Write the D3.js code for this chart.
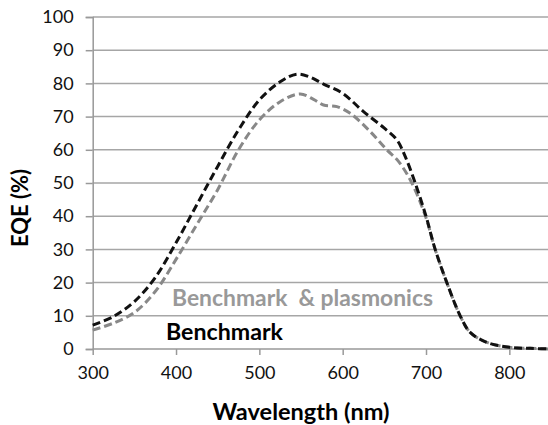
<!DOCTYPE html>
<html><head><meta charset="utf-8">
<script src="https://cdn.jsdelivr.net/npm/d3@7"></script>
<style>body{margin:0;background:#fff}svg{display:block}</style>
</head><body><svg id="c" width="548" height="425"></svg>
<script>
const benchWl = [300,325,350,375,400,425,450,475,500,525,545,560,577,600,625,650,665,675,687,700,711,725,741,753,773,800,825,850];
const benchEqe = [7.2,9.8,14.3,21.5,32,43.5,55,66,75,80.5,82.8,82,79.8,77,71.5,66.5,63,58,50,40,30,20,10,5,2,0.5,0.2,0];
const plasWl = [300,325,350,375,400,425,450,475,500,525,549,565,577,593,609,633,653,667,683,700,711,725,741,753,773,800,825,850];
const plasEqe = [5.7,7.8,11,17.3,27,37.5,48,60,69,74.5,76.8,75.2,73.5,73,71,65.5,60,56.5,50,39.5,30,20,10,5,2,0.5,0.2,0];
const xTicks = [300,400,500,600,700,800];
const yTicks = [0,10,20,30,40,50,60,70,80,90,100];
const legendLabels = ["Benchmark  & plasmonics","Benchmark"];

const svg = d3.select("#c");
const x = d3.scaleLinear().domain([300,850]).range([92.7,551]);
const y = d3.scaleLinear().domain([0,100]).range([349,17]);
const font = "Lato, 'Open Sans', sans-serif";

// gridlines
svg.append("g").selectAll("line").data(yTicks.filter(d=>d>0)).join("line")
  .attr("x1",x(300)).attr("x2",548).attr("y1",d=>y(d)).attr("y2",d=>y(d))
  .attr("stroke","#a6a6a6").attr("stroke-width",1.5);

const yAxis = svg.append("g").attr("transform",`translate(${x(300)},0)`)
  .call(d3.axisLeft(y).tickValues(yTicks).tickSize(7).tickPadding(12));
const xAxis = svg.append("g").attr("transform",`translate(0,${y(0)})`)
  .call(d3.axisBottom(x).tickValues(xTicks).tickSize(6).tickPadding(11));
[yAxis,xAxis].forEach(a=>{
  a.select(".domain").attr("stroke","#999").attr("stroke-width",1.5);
  a.selectAll(".tick line").attr("stroke","#999").attr("stroke-width",1.5);
  a.selectAll(".tick text").attr("fill","#111").style("font-family",font).style("font-size","18px");
});
xAxis.select(".domain").attr("d",`M${x(300)},0H548`);

const line = d3.line().curve(d3.curveCatmullRom.alpha(0.5));
svg.append("path").attr("d",line(plasWl.map((w,i)=>[x(w),y(plasEqe[i])])))
  .attr("fill","none").attr("stroke","#888").attr("stroke-width",3).attr("stroke-dasharray","8,4");
svg.append("path").attr("d",line(benchWl.map((w,i)=>[x(w),y(benchEqe[i])])))
  .attr("fill","none").attr("stroke","#111").attr("stroke-width",3).attr("stroke-dasharray","8,4");

function fit(t, w){
  let fs = parseFloat(t.style("font-size"));
  const L = t.node().getComputedTextLength();
  t.style("font-size",(fs*w/L)+"px");
}
const l1 = svg.append("text").attr("x",172).attr("y",298).attr("dy","0.35em")
  .attr("fill","#999").style("font-family",font).style("font-weight","bold").style("font-size","19px")
  .style("white-space","pre").text(legendLabels[0]);
fit(l1,261);
const l2 = svg.append("text").attr("x",166).attr("y",332).attr("dy","0.35em")
  .attr("fill","#000").style("font-family",font).style("font-weight","bold").style("font-size","19px")
  .text(legendLabels[1]);
fit(l2,117);
const xt = svg.append("text").attr("x",301).attr("y",412).attr("dy","0.35em").attr("text-anchor","middle")
  .attr("fill","#000").style("font-family",font).style("font-weight","bold").style("font-size","20px")
  .text("Wavelength (nm)");
fit(xt,177);
const yt = svg.append("text").attr("transform","translate(20,208) rotate(-90)").attr("dy","0.35em").attr("text-anchor","middle")
  .attr("fill","#000").style("font-family",font).style("font-weight","bold").style("font-size","20px")
  .text("EQE (%)");
fit(yt,78);
</script></body></html>
